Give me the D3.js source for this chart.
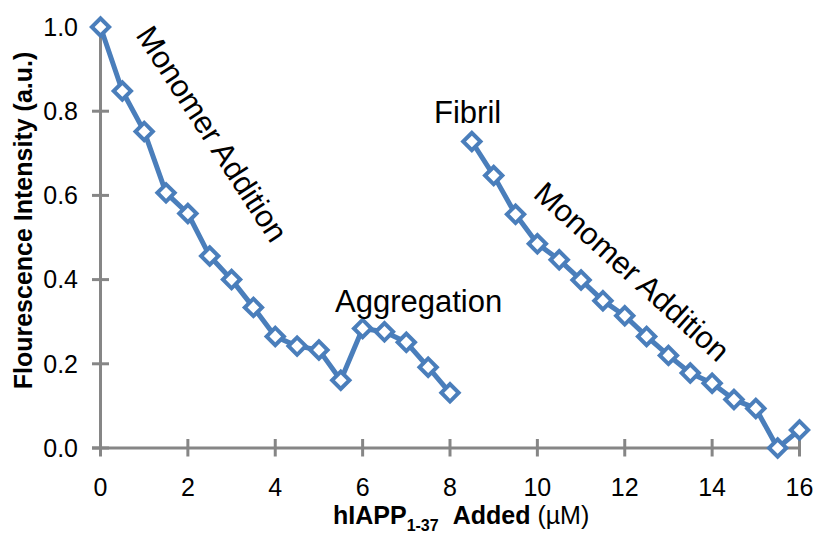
<!DOCTYPE html>
<html>
<head>
<meta charset="utf-8">
<script src="https://cdn.jsdelivr.net/npm/d3@7"></script>
<style>
  body { margin: 0; background: #fff; }
  svg text { font-family: "Liberation Sans", Arial, sans-serif; fill: #000; }
</style>
</head>
<body>
<div id="chart"></div>
<script>
// DATA
const monomerX = [0, 0.5, 1, 1.5, 2, 2.5, 3, 3.5, 4, 4.5, 5, 5.5, 6, 6.5, 7, 7.5, 8]
const monomerY = [1.0, 0.848, 0.752, 0.606, 0.557, 0.456, 0.40, 0.334, 0.265, 0.242, 0.233, 0.161, 0.284, 0.276, 0.251, 0.192, 0.131]
const fibrilX = [8.5, 9, 9.5, 10, 10.5, 11, 11.5, 12, 12.5, 13, 13.5, 14, 14.5, 15, 15.5, 16]
const fibrilY = [0.728, 0.647, 0.555, 0.485, 0.447, 0.399, 0.35, 0.314, 0.265, 0.22, 0.178, 0.154, 0.115, 0.094, 0.0, 0.043]
const xTicks = [0, 2, 4, 6, 8, 10, 12, 14, 16]
const yTicks = [0.0, 0.2, 0.4, 0.6, 0.8, 1.0]

// SIZES
const W = 817, H = 535
const blue = '#4a7ebb'
const grey = '#868686'

const svg = d3.select('#chart').append('svg')
  .attr('width', W)
  .attr('height', H)

// SCALES
const x = d3.scaleLinear().domain([0, 16]).range([100.5, 799.5])
const y = d3.scaleLinear().domain([0, 1]).range([448, 27])

// Y AXIS
const yAxis = svg.append('g').attr('class', 'y axis')
yAxis.append('line')
  .attr('x1', x(0)).attr('x2', x(0))
  .attr('y1', y(1)).attr('y2', y(0) + 8)
  .attr('stroke', grey).attr('stroke-width', 3)
yAxis.selectAll('line.tick')
  .data(yTicks)
  .join('line')
  .attr('class', 'tick')
  .attr('x1', x(0) - 8.5).attr('x2', x(0) + 8.5)
  .attr('y1', d => y(d)).attr('y2', d => y(d))
  .attr('stroke', grey).attr('stroke-width', 3)
yAxis.selectAll('text')
  .data(yTicks)
  .join('text')
  .attr('x', 78)
  .attr('y', d => y(d))
  .attr('dy', '0.35em')
  .attr('text-anchor', 'end')
  .style('font-size', '25px')
  .text(d => d3.format('.1f')(d))

// X AXIS
const xAxis = svg.append('g').attr('class', 'x axis')
xAxis.append('line')
  .attr('x1', x(0) - 8.5).attr('x2', x(16))
  .attr('y1', y(0)).attr('y2', y(0))
  .attr('stroke', grey).attr('stroke-width', 3)
xAxis.selectAll('line.tick')
  .data(xTicks)
  .join('line')
  .attr('class', 'tick')
  .attr('x1', d => x(d)).attr('x2', d => x(d))
  .attr('y1', y(0) - 9).attr('y2', y(0) + 8.5)
  .attr('stroke', grey).attr('stroke-width', 3)
xAxis.selectAll('text')
  .data(xTicks)
  .join('text')
  .attr('x', d => x(d))
  .attr('y', 496)
  .attr('text-anchor', 'middle')
  .style('font-size', '25px')
  .text(d => d)

// AXIS TITLES
svg.append('text')
  .attr('transform', `translate(32, ${(50 + 391) / 2}) rotate(-90)`)
  .attr('text-anchor', 'middle')
  .style('font-size', '25px')
  .style('font-weight', 'bold')
  .text('Flourescence Intensity (a.u.)')

const xTitle = svg.append('text')
  .attr('x', 333)
  .attr('y', 524)
  .style('font-size', '25px')
  .style('font-weight', 'bold')
xTitle.append('tspan').text('hIAPP')
xTitle.append('tspan')
  .attr('dy', 7)
  .style('font-size', '16px')
  .text('1-37')
xTitle.append('tspan')
  .attr('dy', -7)
  .attr('dx', 14)
  .text('Added ')
xTitle.append('tspan')
  .style('font-weight', 'normal')
  .text('(µM)')

// LINES + MARKERS
const line = d3.line()
  .x(d => x(d[0]))
  .y(d => y(d[1]))

const series = [
  d3.zip(monomerX, monomerY),
  d3.zip(fibrilX, fibrilY),
]

const diamond = d3.symbol(d3.symbolSquare, 150)()

series.forEach(pts => {
  svg.append('path')
    .datum(pts)
    .attr('d', line)
    .attr('fill', 'none')
    .attr('stroke', blue)
    .attr('stroke-width', 5)
    .attr('stroke-linejoin', 'round')

  svg.append('g')
    .selectAll('path')
    .data(pts)
    .join('path')
    .attr('d', diamond)
    .attr('transform', d => `translate(${x(d[0])},${y(d[1])}) rotate(45)`)
    .attr('fill', '#fff')
    .attr('stroke', blue)
    .attr('stroke-width', 4)
})

// ANNOTATIONS
const notes = [
  { text: 'Monomer Addition', x: 135, y: 35, angle: 57 },
  { text: 'Monomer Addition', x: 532, y: 196, angle: 42 },
  { text: 'Aggregation', x: 335, y: 312, angle: 0 },
  { text: 'Fibril', x: 434, y: 123, angle: 0 },
]
svg.selectAll('text.note')
  .data(notes)
  .join('text')
  .attr('class', 'note')
  .attr('transform', d => `translate(${d.x},${d.y}) rotate(${d.angle})`)
  .style('font-size', '31px')
  .text(d => d.text)
</script>
</body>
</html>
